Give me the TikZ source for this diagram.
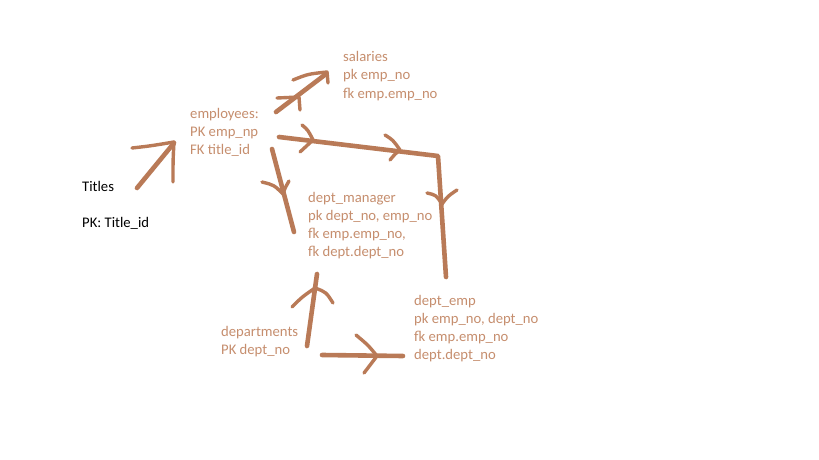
\documentclass[tikz,border=0pt]{standalone}
\usepackage{fontspec}
\setmainfont{Carlito}
\definecolor{strk}{RGB}{185,122,87}
\definecolor{txt}{RGB}{198,142,110}
\begin{document}
\begin{tikzpicture}[x=1pt,y=-1pt,
  tx/.style={anchor=base west,inner sep=0pt,text=txt,font=\fontsize{14.67pt}{18pt}\selectfont},
  bk/.style={tx,text=black},
  shaft/.style={draw=strk,line width=4.6pt,line cap=round,line join=round},
  head/.style={draw=strk,line width=3.4pt,line cap=round,line join=round}]
\useasboundingbox[fill=white] (0,0) rectangle (819,460);
% texts
\node[bk] (t1) at (82,191) {Titles};
\node[bk] (t2) at (82,227) {PK: Title\_id};
\node[tx] (e1) at (190,118) {employees:};
\node[tx] (e2) at (190,136) {PK emp\_np};
\node[tx] (e3) at (190,154) {FK title\_id};
\node[tx] (s1) at (343,62) {salaries};
\node[tx] (s2) at (343,80) {pk emp\_no};
\node[tx] (s3) at (343,98) {fk emp.emp\_no};
\node[tx] (m1) at (308,202) {dept\_manager};
\node[tx] (m2) at (308,220) {pk dept\_no, emp\_no};
\node[tx] (m3) at (308,238) {fk emp.emp\_no,};
\node[tx] (m4) at (308,256) {fk dept.dept\_no};
\node[tx] (d1) at (414,305) {dept\_emp};
\node[tx] (d2) at (414,323) {pk emp\_no, dept\_no};
\node[tx] (d3) at (414,341) {fk emp.emp\_no};
\node[tx] (d4) at (414,359) {dept.dept\_no};
\node[tx] (p1) at (221,336) {departments};
\node[tx] (p2) at (221,354) {PK dept\_no};
% titles -> employees
\draw[shaft] (137,188) -- (174,143);
\draw[head] (132,148) .. controls (150,146) .. (174,142) .. controls (173,160) .. (173,182);
% employees -> salaries
\draw[shaft] (276,112) -- (326,74);
\draw[head] (293,80) .. controls (308,74) .. (327,72) -- (328,83);
\draw[head] (277,98) -- (299,97) -- (300,110);
% employees -> dept_emp (right then down)
\draw[shaft] (279,137) -- (438,156) -- (446,277);
\draw[head] (302,125) .. controls (308,130) .. (313,140) .. controls (306,146) .. (300,152);
\draw[head] (385,135) .. controls (393,140) .. (400,150) .. controls (395,154) .. (390,160);
\draw[head] (427,193) .. controls (436,195) .. (442,204) .. controls (448,196) .. (457,190);
% employees -> dept_manager
\draw[shaft] (272,149) -- (294,232);
\draw[head] (262,182) .. controls (274,185) .. (283,194) .. controls (285,188) .. (289,181);
% departments -> dept_manager
\draw[shaft] (307,346) -- (317,274);
\draw[head] (292,307) .. controls (302,297) .. (315,288) .. controls (326,292) .. (333,303);
% departments -> dept_emp
\draw[shaft] (322,355) -- (403,356);
\draw[head] (356,335) .. controls (368,345) .. (377,356) .. controls (370,364) .. (364,373);
\end{tikzpicture}
\end{document}
